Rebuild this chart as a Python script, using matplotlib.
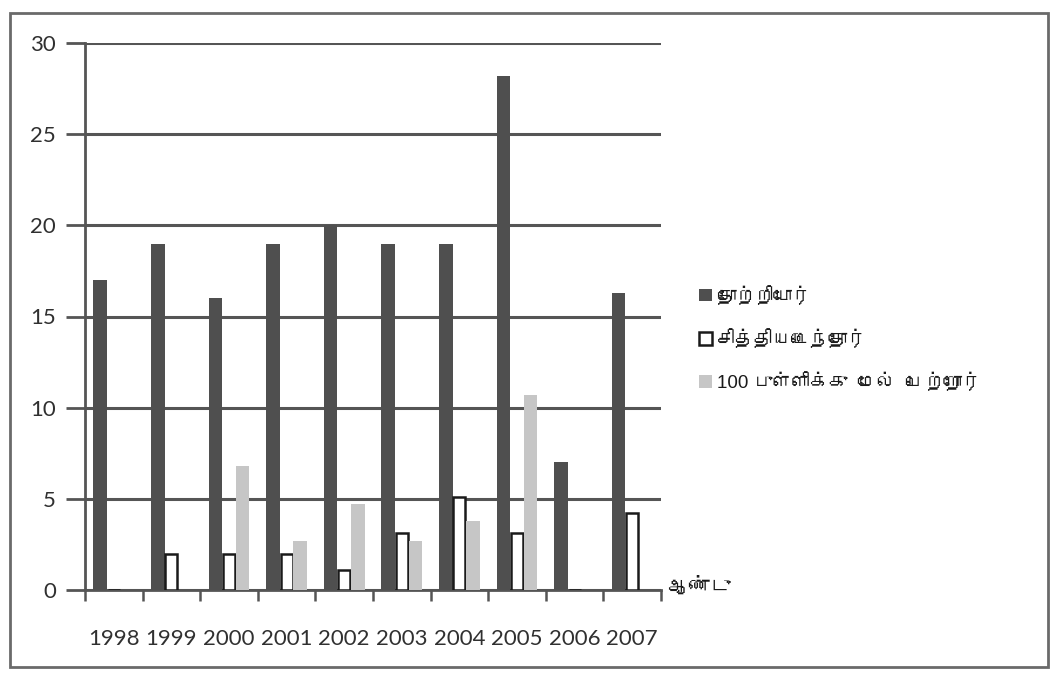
import matplotlib
matplotlib.use("Agg")
import matplotlib.pyplot as plt
import numpy as np
from matplotlib import font_manager
from matplotlib.ft2font import FT2Font
from matplotlib.patches import Rectangle

# data
years = ["1998", "1999", "2000", "2001", "2002", "2003", "2004", "2005", "2006", "2007"]
appeared = [17, 19, 16, 19, 20, 19, 19, 28.2, 7, 16.3]
passed = [0, 2, 2, 2, 1.1, 3.1, 5.1, 3.1, 0, 4.2]
above_100 = [0, 0, 6.8, 2.7, 4.7, 2.7, 3.8, 10.7, 0, 0]
series_names = ["தோற்றியோர்", "சித்தியடைந்தோர்", "100 புள்ளிக்கு  மேல்  பெற்றோர்"]
x_title = "ஆண்டு"


def tamil_family():
    # pick any installed font that has Tamil glyphs
    for f in font_manager.fontManager.ttflist:
        try:
            if 0x0BA4 in FT2Font(f.fname).get_charmap():
                return f.name
        except Exception:
            pass
    return None


tf = tamil_family()
tamil = ["Liberation Sans"] + ([tf] if tf else []) + ["DejaVu Sans"]
plt.rcParams["font.family"] = ["Lato", "DejaVu Sans"]

fig = plt.figure(figsize=(10.54, 6.76), dpi=100, facecolor="white")
ax = fig.add_axes([85 / 1054, 1 - 590 / 676, 576 / 1054, 547 / 676])

dark = "#4f4f4f"
grid = "#555555"
txt = "#303030"
x = np.arange(len(years))
w = 0.235
ax.bar(x - w, appeared, w, color=dark, zorder=3, label=series_names[0])
ax.bar(x, passed, w * 0.9, color="white", edgecolor="#1a1a1a", linewidth=1.8,
       zorder=3, label=series_names[1])
ax.bar(x + w, above_100, w, color="#c6c6c6", edgecolor="none", zorder=3,
       label=series_names[2])

ax.set_xlim(-0.5, len(years) - 0.5)
ax.set_ylim(0, 30)
ax.set_yticks(range(0, 31, 5))
ax.yaxis.grid(True, color=grid, linewidth=2.2)
ax.set_axisbelow(True)

for s in ["top", "right"]:
    ax.spines[s].set_visible(False)
ax.spines["left"].set_color(grid)
ax.spines["left"].set_linewidth(2)
ax.spines["bottom"].set_color(grid)
ax.spines["bottom"].set_linewidth(2)

ax.set_xticks(np.arange(len(years) + 1) - 0.5, minor=True)
ax.set_xticks(x)
ax.set_xticklabels(years, fontsize=16, color=txt)
ax.tick_params(axis="x", which="major", length=0, pad=28)
ax.tick_params(axis="x", which="minor", length=8, width=1.8, color=grid)
ax.tick_params(axis="y", length=14, width=2, color=grid, pad=7,
               labelsize=16, labelcolor=txt)

ax.text(1.012, 0.005, x_title, transform=ax.transAxes, ha="left", va="center",
        fontsize=15, family=tamil, color="#1a1a1a")

leg = ax.legend(loc="center left", bbox_to_anchor=(690 / 1054, 1 - 339 / 676),
                bbox_transform=fig.transFigure, frameon=False, borderpad=0,
                handlelength=0.65, handleheight=0.65, handletextpad=0.3,
                labelspacing=1.25, prop={"family": tamil, "size": 13.5})
for t in leg.get_texts():
    t.set_color("#1a1a1a")

fig.add_artist(Rectangle((10 / 1054, 1 - 667 / 676), 1038 / 1054, 654 / 676,
                         transform=fig.transFigure, fill=False,
                         edgecolor="#6a6a6a", linewidth=2))

fig.savefig("out.png", dpi=100, facecolor=fig.get_facecolor())
plt.close(fig)
